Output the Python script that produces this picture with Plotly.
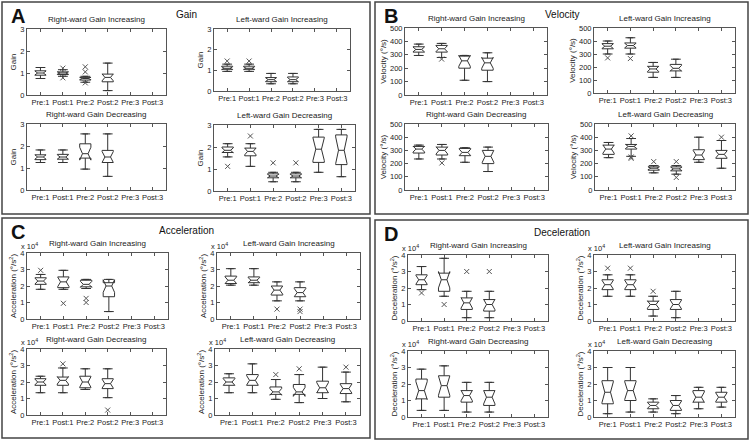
import plotly.graph_objects as go

W, H = 750, 441
CATS = ["Pre:1", "Post:1", "Pre:2", "Post:2", "Pre:3", "Post:3"]

# ---- data: whisker low, q1, median, q3, whisker high, outliers (category, value)
gain_ri = dict(lo=[0.75, 0.85, 0.58, 0.2], q1=[0.9, 0.93, 0.68, 0.6], med=[1.0, 1.0, 0.75, 0.8],
               q3=[1.1, 1.05, 0.8, 0.95], hi=[1.25, 1.15, 0.85, 1.45],
               out=[("Post:1", 1.22), ("Post:1", 0.78), ("Pre:2", 1.28), ("Pre:2", 1.05), ("Pre:2", 0.55)])
gain_li = dict(lo=[0.95, 0.95, 0.35, 0.35], q1=[1.05, 1.05, 0.45, 0.45], med=[1.1, 1.1, 0.55, 0.55],
               q3=[1.2, 1.2, 0.65, 0.68], hi=[1.3, 1.3, 0.85, 0.85],
               out=[("Pre:1", 1.45), ("Post:1", 1.45)])
gain_rd = dict(lo=[1.25, 1.25, 0.95, 0.62], q1=[1.38, 1.4, 1.45, 1.25], med=[1.5, 1.5, 1.65, 1.5],
               q3=[1.6, 1.62, 2.1, 1.8], hi=[1.82, 1.82, 2.55, 2.55], out=[])
gain_ld = dict(lo=[1.55, 1.12, 0.42, 0.42, 0.85, 0.65], q1=[1.75, 1.6, 0.6, 0.6, 1.3, 1.2],
               med=[1.85, 1.8, 0.68, 0.68, 1.9, 1.85], q3=[2.0, 1.95, 0.78, 0.78, 2.45, 2.55],
               hi=[2.15, 2.15, 0.85, 0.85, 2.8, 2.8],
               out=[("Pre:1", 1.12), ("Post:1", 2.5), ("Pre:2", 1.28), ("Post:2", 1.28)])

vel_ri = dict(lo=[295, 280, 110, 100], q1=[320, 320, 200, 185], med=[340, 345, 255, 240],
              q3=[360, 370, 290, 275], hi=[380, 385, 295, 315], out=[("Post:1", 268)])
vel_li = dict(lo=[300, 300, 120, 120], q1=[340, 345, 160, 170], med=[360, 365, 185, 190],
              q3=[380, 385, 205, 220], hi=[400, 425, 235, 260], out=[("Pre:1", 270), ("Post:1", 265)])
vel_rd = dict(lo=[235, 235, 210, 140], q1=[280, 265, 260, 200], med=[310, 300, 285, 255],
              q3=[330, 325, 315, 300], hi=[340, 345, 320, 325], out=[("Post:1", 205)])
vel_ld = dict(lo=[245, 255, 130, 120, 210, 165], q1=[270, 310, 150, 145, 230, 240],
              med=[310, 330, 165, 160, 265, 270], q3=[340, 345, 175, 175, 305, 300],
              hi=[360, 390, 185, 185, 400, 375],
              out=[("Post:1", 410), ("Post:1", 250), ("Post:1", 240), ("Pre:2", 215),
                   ("Post:2", 215), ("Post:2", 95), ("Post:3", 400)])

acc_ri = dict(lo=[1.8, 1.8, 1.85, 0.45], q1=[2.1, 1.9, 1.95, 1.35], med=[2.3, 2.25, 2.1, 2.0],
              q3=[2.5, 2.55, 2.35, 2.2], hi=[2.7, 2.95, 2.4, 2.4],
              out=[("Pre:1", 2.95), ("Post:1", 0.95), ("Pre:2", 1.25), ("Pre:2", 1.0)])
acc_li = dict(lo=[2.05, 2.05, 1.1, 1.1], q1=[2.15, 2.2, 1.45, 1.35], med=[2.35, 2.35, 1.75, 1.6],
              q3=[2.6, 2.55, 2.0, 1.9], hi=[3.05, 3.05, 2.25, 2.25],
              out=[("Pre:2", 0.6), ("Post:2", 0.6), ("Post:2", 0.45)])
acc_rd = dict(lo=[1.35, 1.35, 1.55, 1.05], q1=[1.8, 1.8, 1.65, 1.6], med=[2.0, 2.1, 2.0, 1.9],
              q3=[2.2, 2.3, 2.35, 2.2], hi=[2.35, 2.85, 2.8, 2.8],
              out=[("Post:1", 3.1), ("Post:2", 0.3)])
acc_ld = dict(lo=[1.35, 1.35, 0.95, 0.75, 1.0, 0.8], q1=[1.8, 1.8, 1.25, 1.25, 1.35, 1.3],
              med=[2.0, 2.1, 1.4, 1.4, 1.65, 1.6], q3=[2.25, 2.45, 1.7, 1.85, 2.05, 1.9],
              hi=[2.5, 3.1, 2.15, 2.45, 2.9, 2.6],
              out=[("Pre:2", 2.45), ("Post:2", 2.8), ("Post:3", 2.9)])

dec_ri = dict(lo=[1.9, 1.5, 0.2, 0.2], q1=[2.2, 1.8, 0.7, 0.6], med=[2.5, 2.5, 1.1, 1.0],
              q3=[2.8, 2.9, 1.4, 1.3], hi=[3.3, 3.8, 1.8, 1.8],
              out=[("Pre:1", 1.7), ("Post:1", 1.0), ("Pre:2", 3.0), ("Post:2", 3.0)])
dec_li = dict(lo=[1.5, 1.5, 0.3, 0.2], q1=[1.9, 1.9, 0.7, 0.7], med=[2.2, 2.2, 1.0, 1.0],
              q3=[2.5, 2.5, 1.2, 1.3], hi=[2.8, 2.8, 1.5, 1.8],
              out=[("Pre:1", 3.2), ("Post:1", 3.2), ("Pre:2", 1.8)])
dec_rd = dict(lo=[0.4, 0.4, 0.3, 0.3], q1=[1.1, 1.2, 0.9, 0.7], med=[1.6, 1.9, 1.3, 1.2],
              q3=[2.3, 2.5, 1.6, 1.6], hi=[2.9, 3.1, 2.1, 2.1], out=[])
dec_ld = dict(lo=[0.2, 0.3, 0.3, 0.2, 0.5, 0.6], q1=[0.8, 1.0, 0.5, 0.4, 0.9, 0.9],
              med=[1.5, 1.6, 0.7, 0.7, 1.2, 1.2], q3=[2.2, 2.2, 0.9, 1.0, 1.6, 1.5],
              hi=[3.0, 3.0, 1.1, 1.3, 1.8, 1.8], out=[])

# (data, title, ytitle, yrange, dtick, x10^4 label, pixel rect x0,x1,y0,y1)
SUB = [
    (gain_ri, "Right-ward Gain Increasing", "Gain", 3, 1, False, (27, 166, 29, 95)),
    (gain_li, "Left-ward Gain Increasing", "Gain", 3, 1, False, (214, 350, 29, 91)),
    (gain_rd, "Right-ward Gain Decreasing", "Gain", 3, 1, False, (27, 166, 124, 190)),
    (gain_ld, "Left-ward Gain Decreasing", "Gain", 3, 1, False, (214, 355, 125, 191)),
    (vel_ri, "Right-ward Gain Increasing", "Velocity (°/s)", 500, 100, False, (405, 547, 28, 95)),
    (vel_li, "Left-ward Gain Increasing", "Velocity (°/s)", 500, 100, False, (594, 735, 28, 93)),
    (vel_rd, "Right-ward Gain Decreasing", "Velocity (°/s)", 500, 100, False, (405, 548, 124, 190)),
    (vel_ld, "Left-ward Gain Decreasing", "Velocity (°/s)", 500, 100, False, (595, 735, 124, 190)),
    (acc_ri, "Right-ward Gain Increasing", "Acceleration (°/s<sup>2</sup>)", 4, 1, True, (27, 168, 253, 319)),
    (acc_li, "Left-ward Gain Increasing", "Acceleration (°/s<sup>2</sup>)", 4, 1, True, (217, 360, 253, 319)),
    (acc_rd, "Right-ward Gain Decreasing", "Acceleration (°/s<sup>2</sup>)", 4, 1, True, (27, 166, 349, 415)),
    (acc_ld, "Left-ward Gain Decreasing", "Acceleration (°/s<sup>2</sup>)", 4, 1, True, (215, 360, 349, 415)),
    (dec_ri, "Right-ward Gain Increasing", "Deceleration (°/s<sup>2</sup>)", 4, 1, True, (408, 548, 255, 321)),
    (dec_li, "Left-ward Gain Increasing", "Deceleration (°/s<sup>2</sup>)", 4, 1, True, (594, 735, 255, 321)),
    (dec_rd, "Right-ward Gain Decreasing", "Deceleration (°/s<sup>2</sup>)", 4, 1, True, (408, 548, 351, 417)),
    (dec_ld, "Left-ward Gain Decreasing", "Deceleration (°/s<sup>2</sup>)", 4, 1, True, (594, 735, 351, 417)),
]

FONT = "Liberation Sans, Arial, sans-serif"
LC = "#333333"
fig = go.Figure()
annotations = []
shapes = []

for i, (d, title, ytitle, ymax, dtick, x4, (px0, px1, py0, py1)) in enumerate(SUB, start=1):
    n = len(d["med"])
    cats = CATS[:n]
    xa, ya = f"x{i}", f"y{i}"
    iqr = [q3 - q1 for q1, q3 in zip(d["q1"], d["q3"])]
    fig.add_trace(go.Box(
        x=cats, q1=d["q1"], median=d["med"], q3=d["q3"],
        lowerfence=d["lo"], upperfence=d["hi"],
        notched=True, notchspan=[0.45 * v for v in iqr], notchwidth=0.25,
        width=0.5, fillcolor="white", line=dict(color=LC, width=1),
        boxpoints=False, xaxis=xa, yaxis=ya, showlegend=False, hoverinfo="skip"))
    # whisker caps
    fig.add_trace(go.Scatter(
        x=cats + cats, y=d["lo"] + d["hi"], mode="markers",
        marker=dict(symbol="line-ew", size=7, line=dict(color=LC, width=1)),
        xaxis=xa, yaxis=ya, showlegend=False, hoverinfo="skip"))
    if d["out"]:
        fig.add_trace(go.Scatter(
            x=[o[0] for o in d["out"]], y=[o[1] for o in d["out"]], mode="markers",
            marker=dict(symbol="x-thin", size=5, line=dict(color="#555555", width=1)),
            xaxis=xa, yaxis=ya, showlegend=False, hoverinfo="skip"))
    dx = [px0 / W, px1 / W]
    dy = [1 - py1 / H, 1 - py0 / H]
    axkey = "" if i == 1 else str(i)
    common = dict(showline=True, linecolor="#555555", linewidth=1, mirror="allticks",
                  ticks="inside", ticklen=3, tickcolor="#555555", showgrid=False, zeroline=False,
                  automargin=False, tickfont=dict(family=FONT, size=7.5, color="#222222"))
    fig.layout["xaxis" + axkey] = dict(domain=dx, anchor=ya, type="category",
                                       categoryorder="array", categoryarray=CATS, tickangle=0,
                                       range=[-0.6, 5.6], **common)
    fig.layout["yaxis" + axkey] = dict(domain=dy, anchor=xa, range=[0, ymax], dtick=dtick,
                                       title=dict(text=ytitle, standoff=2,
                                                  font=dict(family=FONT, size=8, color="#222222")),
                                       **common)
    annotations.append(dict(x=(dx[0] + dx[1]) / 2, y=dy[1], xref="paper", yref="paper",
                            text=title, showarrow=False, xanchor="center", yanchor="bottom", yshift=3,
                            font=dict(family=FONT, size=8, color="#222222")))
    if x4:
        annotations.append(dict(x=dx[0], y=dy[1], xref="paper", yref="paper",
                                text="x 10<sup>4</sup>", showarrow=False, xanchor="left",
                                yanchor="bottom", xshift=-8, yshift=0,
                                font=dict(family=FONT, size=7.5, color="#222222")))

# panel frames, letters and titles
PANELS = [("A", "Gain", (2, 370, 2, 214)), ("B", "Velocity", (375, 748, 2, 214)),
          ("C", "Acceleration", (2, 370, 218, 438)), ("D", "Deceleration", (375, 748, 220, 439))]
for letter, name, (x0, x1, y0, y1) in PANELS:
    shapes.append(dict(type="rect", xref="paper", yref="paper", x0=x0 / W, x1=x1 / W,
                       y0=1 - y1 / H, y1=1 - y0 / H, line=dict(color="#444444", width=1.5)))
    annotations.append(dict(x=(x0 + 7) / W, y=1 - (y0 + 1) / H, xref="paper", yref="paper",
                            text=f"<b>{letter}</b>", showarrow=False, xanchor="left", yanchor="top",
                            font=dict(family=FONT, size=20, color="#111111")))
    annotations.append(dict(x=(x0 + x1) / 2 / W, y=1 - (y0 + 5) / H, xref="paper", yref="paper",
                            text=name, showarrow=False, xanchor="center", yanchor="top",
                            font=dict(family=FONT, size=10, color="#111111")))

fig.update_layout(width=W, height=H, margin=dict(l=0, r=0, t=0, b=0),
                  paper_bgcolor="white", plot_bgcolor="white", hovermode=False,
                  annotations=annotations, shapes=shapes)
fig.write_html("out.html", config={"displayModeBar": False},
               post_script="document.body.style.margin='0';")
